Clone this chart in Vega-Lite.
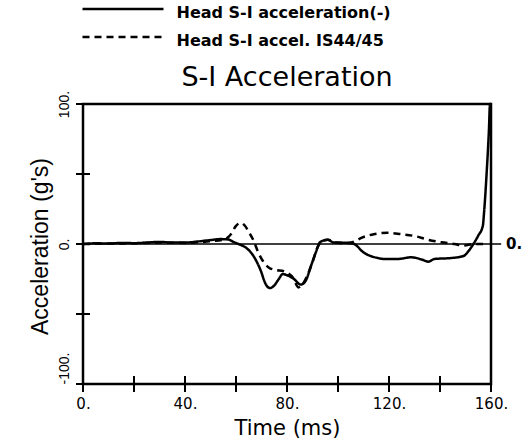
{
  "$schema": "https://vega.github.io/schema/vega-lite/v6.json",
  "width": 408,
  "height": 280,
  "autosize": {"type": "none"},
  "padding": {"left": 83, "top": 104, "right": 34, "bottom": 59},
  "background": "white",
  "title": {"text": "S-I Acceleration", "font": "DejaVu Sans", "fontSize": 27, "fontWeight": "normal", "color": "black", "anchor": "middle", "baseline": "alphabetic", "offset": 0, "dy": 108},
  "config": {"view": {"stroke": "black", "strokeWidth": 2.5}},
  "datasets": {
    "curves": [
      {"t": 0, "a": 0, "s": "Head S-I acceleration(-)"},
      {"t": 5, "a": 0.5, "s": "Head S-I acceleration(-)"},
      {"t": 10, "a": 0.3, "s": "Head S-I acceleration(-)"},
      {"t": 15, "a": 0.8, "s": "Head S-I acceleration(-)"},
      {"t": 20, "a": 0.6, "s": "Head S-I acceleration(-)"},
      {"t": 25, "a": 1, "s": "Head S-I acceleration(-)"},
      {"t": 30, "a": 1.5, "s": "Head S-I acceleration(-)"},
      {"t": 35, "a": 1, "s": "Head S-I acceleration(-)"},
      {"t": 40, "a": 1, "s": "Head S-I acceleration(-)"},
      {"t": 45, "a": 1.8, "s": "Head S-I acceleration(-)"},
      {"t": 50, "a": 2.8, "s": "Head S-I acceleration(-)"},
      {"t": 54, "a": 3.5, "s": "Head S-I acceleration(-)"},
      {"t": 57, "a": 3.2, "s": "Head S-I acceleration(-)"},
      {"t": 59, "a": 1.5, "s": "Head S-I acceleration(-)"},
      {"t": 61, "a": 0, "s": "Head S-I acceleration(-)"},
      {"t": 64.5, "a": -3.5, "s": "Head S-I acceleration(-)"},
      {"t": 67, "a": -9, "s": "Head S-I acceleration(-)"},
      {"t": 69.7, "a": -19, "s": "Head S-I acceleration(-)"},
      {"t": 71.6, "a": -28.5, "s": "Head S-I acceleration(-)"},
      {"t": 73.3, "a": -31.5, "s": "Head S-I acceleration(-)"},
      {"t": 74.8, "a": -30, "s": "Head S-I acceleration(-)"},
      {"t": 76.8, "a": -25, "s": "Head S-I acceleration(-)"},
      {"t": 78.3, "a": -21.5, "s": "Head S-I acceleration(-)"},
      {"t": 80.3, "a": -22.5, "s": "Head S-I acceleration(-)"},
      {"t": 82.7, "a": -25, "s": "Head S-I acceleration(-)"},
      {"t": 85.4, "a": -29, "s": "Head S-I acceleration(-)"},
      {"t": 87.4, "a": -26, "s": "Head S-I acceleration(-)"},
      {"t": 89.4, "a": -15.7, "s": "Head S-I acceleration(-)"},
      {"t": 91.3, "a": -6, "s": "Head S-I acceleration(-)"},
      {"t": 93, "a": 1.4, "s": "Head S-I acceleration(-)"},
      {"t": 96, "a": 3, "s": "Head S-I acceleration(-)"},
      {"t": 98.4, "a": 1, "s": "Head S-I acceleration(-)"},
      {"t": 101, "a": 1, "s": "Head S-I acceleration(-)"},
      {"t": 104, "a": 0.7, "s": "Head S-I acceleration(-)"},
      {"t": 106.3, "a": 0, "s": "Head S-I acceleration(-)"},
      {"t": 110, "a": -6, "s": "Head S-I acceleration(-)"},
      {"t": 115.6, "a": -10, "s": "Head S-I acceleration(-)"},
      {"t": 119, "a": -10.8, "s": "Head S-I acceleration(-)"},
      {"t": 123.6, "a": -10.7, "s": "Head S-I acceleration(-)"},
      {"t": 128.7, "a": -9.5, "s": "Head S-I acceleration(-)"},
      {"t": 132.7, "a": -11, "s": "Head S-I acceleration(-)"},
      {"t": 135.5, "a": -12.6, "s": "Head S-I acceleration(-)"},
      {"t": 137.8, "a": -10.7, "s": "Head S-I acceleration(-)"},
      {"t": 144.5, "a": -10, "s": "Head S-I acceleration(-)"},
      {"t": 149.2, "a": -8.6, "s": "Head S-I acceleration(-)"},
      {"t": 151.2, "a": -5, "s": "Head S-I acceleration(-)"},
      {"t": 153.1, "a": 0, "s": "Head S-I acceleration(-)"},
      {"t": 155, "a": 6, "s": "Head S-I acceleration(-)"},
      {"t": 156.8, "a": 13, "s": "Head S-I acceleration(-)"},
      {"t": 157.3, "a": 23, "s": "Head S-I acceleration(-)"},
      {"t": 158.3, "a": 51, "s": "Head S-I acceleration(-)"},
      {"t": 159.2, "a": 82, "s": "Head S-I acceleration(-)"},
      {"t": 159.6, "a": 100, "s": "Head S-I acceleration(-)"},
      {"t": 160, "a": 100, "s": "Head S-I acceleration(-)"},
      {"t": 0, "a": 0, "s": "Head S-I accel. IS44/45"},
      {"t": 10, "a": 0.3, "s": "Head S-I accel. IS44/45"},
      {"t": 20, "a": 0.5, "s": "Head S-I accel. IS44/45"},
      {"t": 30, "a": 1, "s": "Head S-I accel. IS44/45"},
      {"t": 40, "a": 0.8, "s": "Head S-I accel. IS44/45"},
      {"t": 50, "a": 2, "s": "Head S-I accel. IS44/45"},
      {"t": 55, "a": 3, "s": "Head S-I accel. IS44/45"},
      {"t": 57, "a": 5, "s": "Head S-I accel. IS44/45"},
      {"t": 58, "a": 7, "s": "Head S-I accel. IS44/45"},
      {"t": 60, "a": 13, "s": "Head S-I accel. IS44/45"},
      {"t": 62, "a": 15, "s": "Head S-I accel. IS44/45"},
      {"t": 63.5, "a": 13, "s": "Head S-I accel. IS44/45"},
      {"t": 65, "a": 8.6, "s": "Head S-I accel. IS44/45"},
      {"t": 67, "a": 2, "s": "Head S-I accel. IS44/45"},
      {"t": 68.5, "a": -5, "s": "Head S-I accel. IS44/45"},
      {"t": 70.5, "a": -12, "s": "Head S-I accel. IS44/45"},
      {"t": 72.8, "a": -16.7, "s": "Head S-I accel. IS44/45"},
      {"t": 75.6, "a": -18.6, "s": "Head S-I accel. IS44/45"},
      {"t": 78.7, "a": -19.5, "s": "Head S-I accel. IS44/45"},
      {"t": 80.5, "a": -21, "s": "Head S-I accel. IS44/45"},
      {"t": 82.3, "a": -24, "s": "Head S-I accel. IS44/45"},
      {"t": 84.5, "a": -31, "s": "Head S-I accel. IS44/45"},
      {"t": 86, "a": -29, "s": "Head S-I accel. IS44/45"},
      {"t": 88.3, "a": -21, "s": "Head S-I accel. IS44/45"},
      {"t": 90, "a": -13, "s": "Head S-I accel. IS44/45"},
      {"t": 91.7, "a": -3.6, "s": "Head S-I accel. IS44/45"},
      {"t": 93.3, "a": 1.4, "s": "Head S-I accel. IS44/45"},
      {"t": 96, "a": 3, "s": "Head S-I accel. IS44/45"},
      {"t": 99, "a": 1, "s": "Head S-I accel. IS44/45"},
      {"t": 102, "a": 0.5, "s": "Head S-I accel. IS44/45"},
      {"t": 105, "a": 1, "s": "Head S-I accel. IS44/45"},
      {"t": 110, "a": 5, "s": "Head S-I accel. IS44/45"},
      {"t": 114, "a": 7, "s": "Head S-I accel. IS44/45"},
      {"t": 119.6, "a": 8, "s": "Head S-I accel. IS44/45"},
      {"t": 124.8, "a": 7, "s": "Head S-I accel. IS44/45"},
      {"t": 130, "a": 5.7, "s": "Head S-I accel. IS44/45"},
      {"t": 135.4, "a": 3, "s": "Head S-I accel. IS44/45"},
      {"t": 140.6, "a": 1.2, "s": "Head S-I accel. IS44/45"},
      {"t": 145.7, "a": 0, "s": "Head S-I accel. IS44/45"},
      {"t": 149, "a": -1.2, "s": "Head S-I accel. IS44/45"},
      {"t": 153.5, "a": 0, "s": "Head S-I accel. IS44/45"},
      {"t": 157.5, "a": 0, "s": "Head S-I accel. IS44/45"}
    ],
    "yticks": [{"t": 0, "a": -100}, {"t": 0, "a": -50}, {"t": 0, "a": 0}, {"t": 0, "a": 50}, {"t": 0, "a": 100}],
    "xticks": [{"t": 0, "a": -100}, {"t": 20, "a": -100}, {"t": 40, "a": -100}, {"t": 60, "a": -100}, {"t": 80, "a": -100}, {"t": 100, "a": -100}, {"t": 120, "a": -100}, {"t": 140, "a": -100}, {"t": 160, "a": -100}],
    "zero": [{"t": 0, "a": 0, "t2": 164}],
    "zerolabel": [{"t": 160, "a": 0, "label": "0."}]
  },
  "encoding": {
    "x": {"field": "t", "type": "quantitative", "scale": {"domain": [0, 160], "nice": false, "zero": false},
      "axis": {"title": "Time (ms)", "titleFont": "DejaVu Sans", "titleFontSize": 21, "titleFontWeight": "normal", "titleColor": "black", "titlePadding": 6,
        "values": [0, 40, 80, 120, 160], "labelExpr": "datum.value + '.'", "labelFont": "DejaVu Sans", "labelFontSize": 15, "labelColor": "black", "labelPadding": 12,
        "ticks": false, "domain": false, "grid": false, "labelFlush": false, "labelOverlap": false}},
    "y": {"field": "a", "type": "quantitative", "scale": {"domain": [-100, 100], "nice": false},
      "axis": {"title": "Acceleration (g's)", "titleFont": "Liberation Sans", "titleFontSize": 23, "titleFontWeight": "normal", "titleColor": "black", "titleAngle": -90, "titleBaseline": "alphabetic", "titleX": -36, "titleY": 142, "titleAlign": "center",
        "values": [-100, 0, 100], "labelExpr": "datum.value + '.'", "labelAngle": -90, "labelFont": "Liberation Sans", "labelFontSize": 14, "labelColor": "black", "labelBaseline": "alphabetic", "labelPadding": 15,
        "labelAlign": {"condition": {"test": "datum.value == -100", "value": "left"}, "value": "center"},
        "ticks": false, "tickSize": 0, "domain": false, "grid": false, "labelFlush": false, "labelOverlap": false}}
  },
  "layer": [
    {
      "data": {"name": "curves"},
      "mark": {"type": "line", "color": "black", "strokeWidth": 2.5, "interpolate": "monotone"},
      "encoding": {
        "strokeDash": {"field": "s", "type": "nominal",
          "scale": {"domain": ["Head S-I acceleration(-)", "Head S-I accel. IS44/45"], "range": [[1, 0], [7, 5]]},
          "legend": {"orient": "none", "legendX": -3.5, "legendY": -99, "title": null, "symbolType": "M-1,-0.8H15.2", "symbolSize": 100, "symbolStrokeWidth": 2.5, "symbolStrokeColor": "black", "labelFont": "DejaVu Sans", "labelFontWeight": "bold", "labelFontSize": 16, "labelColor": "black", "labelOffset": 81, "rowPadding": 11, "labelBaseline": "middle", "labelLimit": 400, "padding": 0}}
      }
    },
    {
      "data": {"name": "yticks"},
      "mark": {"type": "tick", "orient": "horizontal", "size": 14, "thickness": 2, "color": "black", "opacity": 1}
    },
    {
      "data": {"name": "xticks"},
      "mark": {"type": "tick", "orient": "vertical", "size": 16, "thickness": 2, "color": "black", "opacity": 1}
    },
    {
      "data": {"name": "zero"},
      "mark": {"type": "rule", "color": "black", "strokeWidth": 1.6},
      "encoding": {"x2": {"field": "t2"}}
    },
    {
      "data": {"name": "zerolabel"},
      "mark": {"type": "text", "align": "left", "baseline": "middle", "dx": 15, "font": "DejaVu Sans", "fontWeight": "bold", "fontSize": 15, "color": "black"},
      "encoding": {"text": {"field": "label"}}
    }
  ]
}
